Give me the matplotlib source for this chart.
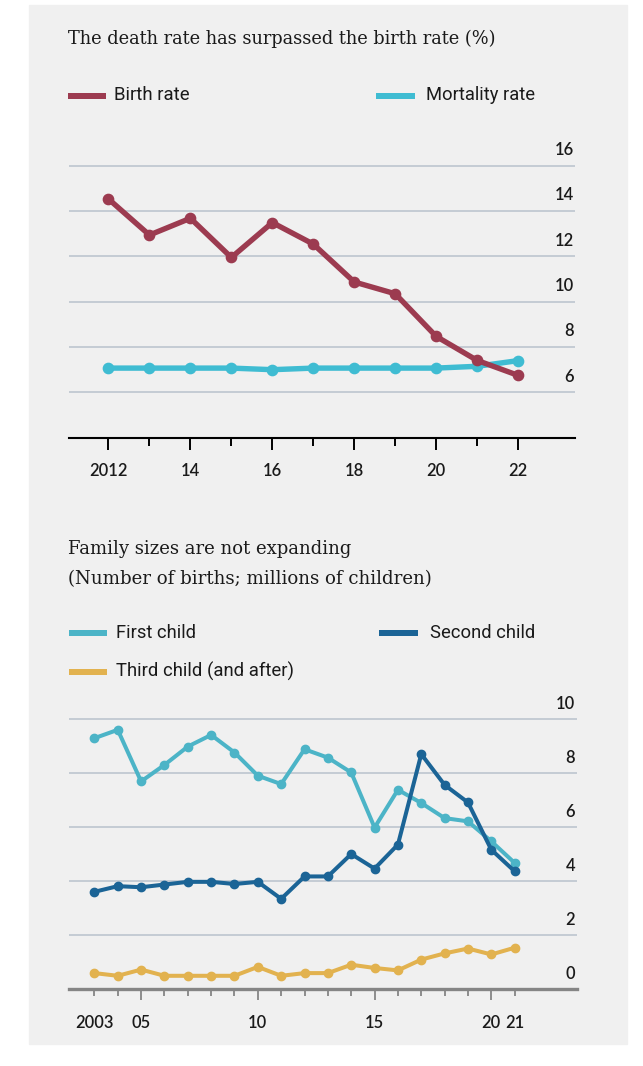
import matplotlib
matplotlib.use("Agg")
import matplotlib.pyplot as plt
import matplotlib.transforms as mtransforms
from matplotlib.lines import Line2D
from matplotlib.patches import Rectangle
from matplotlib import font_manager

# ---------------- data ----------------
rate_years = list(range(2012, 2023))
birth_rate = [14.53, 12.94, 13.68, 11.95, 13.49, 12.54, 10.87, 10.35, 8.47, 7.41, 6.75]
mortality_rate = [7.07, 7.07, 7.07, 7.07, 7.00, 7.07, 7.07, 7.07, 7.07, 7.15, 7.40]
rate_yticks = [6, 8, 10, 12, 14, 16]
rate_xtick_years = [2012, 2014, 2016, 2018, 2020, 2022]
rate_xtick_labels = ["2012", "14", "16", "18", "20", "22"]

birth_years = list(range(2003, 2022))
first_child = [9.30, 9.61, 7.70, 8.31, 8.99, 9.42, 8.77, 7.91, 7.60, 8.89,
               8.58, 8.03, 5.99, 7.39, 6.90, 6.34, 6.22, 5.48, 4.68]
second_child = [3.61, 3.82, 3.78, 3.88, 3.98, 3.98, 3.90, 3.98, 3.35, 4.18,
                4.18, 5.01, 4.47, 5.36, 8.71, 7.57, 6.92, 5.17, 4.37]
third_child = [0.60, 0.50, 0.73, 0.50, 0.50, 0.50, 0.50, 0.83, 0.50, 0.60,
               0.60, 0.91, 0.79, 0.70, 1.10, 1.33, 1.51, 1.29, 1.54]
births_yticks = [0, 2, 4, 6, 8, 10]
births_xtick_years = [2003, 2005, 2010, 2015, 2020, 2021]
births_xtick_labels = ["2003", "05", "10", "15", "20", "21"]

title1 = "The death rate has surpassed the birth rate (%)"
title2a = "Family sizes are not expanding"
title2b = "(Number of births; millions of children)"
leg_birth = "Birth rate"
leg_mort = "Mortality rate"
leg_first = "First child"
leg_second = "Second child"
leg_third = "Third child (and after)"

# ---------------- style ----------------
C_BIRTH = "#9c3b50"
C_MORT = "#3fbcd2"
C_FIRST = "#4cb4c7"
C_SECOND = "#1b6496"
C_THIRD = "#e2b24f"
C_GRID = "#b8c2cc"
C_BG = "#f0f0f0"
C_TEXT = "#1a1a1a"

W, H = 643, 1066
fig = plt.figure(figsize=(W / 100, H / 100), dpi=100)
fig.patch.set_facecolor("white")

names = {f.name for f in font_manager.fontManager.ttflist}
SERIF = "DejaVu Serif"
LEG_FONT = "Liberation Sans Narrow" if "Liberation Sans Narrow" in names else "Roboto"
TICK_FONT = "Lato" if "Lato" in names else "DejaVu Sans"
TICK_WEIGHT = "semibold"


def fx(x):
    return x / W


def fy(y):
    return 1 - y / H


def px_axes(left, right, top, bottom):
    return [left / W, 1 - bottom / H, (right - left) / W, (bottom - top) / H]


fig.patches.append(Rectangle((fx(29.3), fy(1044)), (627 - 29.3) / W, (1044 - 5) / H,
                             transform=fig.transFigure, color=C_BG, zorder=-10))

renderer = fig.canvas.get_renderer()


def fit_text(x, y, s, width_px, family, va="baseline", **kw):
    t = fig.text(fx(x), fy(y), s, family=family, fontsize=10, va=va, ha="left",
                 color=C_TEXT, **kw)
    w = t.get_window_extent(renderer).width
    t.set_fontsize(10 * width_px / w)
    return t


def text_size_for(s, width_px, family, **kw):
    t = fig.text(0, 0, s, family=family, fontsize=10, **kw)
    w = t.get_window_extent(renderer).width
    t.remove()
    return 10 * width_px / w


def legend_line(x0, x1, y, color):
    fig.add_artist(Line2D([fx(x0), fx(x1)], [fy(y), fy(y)], transform=fig.transFigure,
                          color=color, lw=6 * 0.72, solid_capstyle="butt"))


# titles
fit_text(68, 44.5, title1, 431, SERIF)
fit_text(68, 553.5, title2a, 285, SERIF)
fit_text(68, 584.5, title2b, 363, SERIF)

# legends
legend_line(68, 106, 95.7, C_BIRTH)
fit_text(114, 100, leg_birth, 76, LEG_FONT)
legend_line(376, 415, 95.7, C_MORT)
fit_text(426, 100, leg_mort, 109, LEG_FONT)

legend_line(68.5, 107, 633.3, C_FIRST)
fit_text(116, 638.3, leg_first, 80, LEG_FONT)
legend_line(379, 418, 633.3, C_SECOND)
fit_text(430, 638.3, leg_second, 104.6, LEG_FONT)
legend_line(68.5, 107, 671.7, C_THIRD)
fit_text(116, 676.5, leg_third, 177.5, LEG_FONT)

tick_fs = text_size_for("2012", 38, TICK_FONT, weight=TICK_WEIGHT)

# ---------------- top chart ----------------
ax1 = fig.add_axes(px_axes(68.6, 575, 149.8, 437.7))
ax1.set_facecolor("none")
ax1.set_xlim(2011.026, 2023.39)
ax1.set_ylim(4, 16.7)
for sp in ["top", "left", "right"]:
    ax1.spines[sp].set_visible(False)
ax1.spines["bottom"].set_color("black")
ax1.spines["bottom"].set_linewidth(1.5)
for v in rate_yticks:
    ax1.axhline(v, color=C_GRID, lw=1.1, zorder=1)
ax1.plot(rate_years, mortality_rate, color=C_MORT, lw=3.9, marker="o", ms=7.4,
         zorder=3, solid_joinstyle="round")
ax1.plot(rate_years, birth_rate, color=C_BIRTH, lw=3.9, marker="o", ms=7.4,
         zorder=4, solid_joinstyle="round")
ax1.set_yticks([])
ax1.set_xticks(rate_xtick_years, labels=rate_xtick_labels)
ax1.set_xticks([y for y in rate_years if y not in rate_xtick_years], minor=True)
ax1.tick_params(axis="x", which="major", length=12 * 0.72, width=1.4, color="black",
                pad=9.5, labelsize=tick_fs, labelcolor=C_TEXT)
ax1.tick_params(axis="x", which="minor", length=8 * 0.72, width=1.4, color="black")
for lbl in ax1.get_xticklabels():
    lbl.set_family(TICK_FONT)
    lbl.set_weight(TICK_WEIGHT)
off1 = mtransforms.offset_copy(mtransforms.blended_transform_factory(ax1.transAxes, ax1.transData),
                               fig=fig, x=-1 * 0.72, y=15.7 * 0.72, units="points")
for v in rate_yticks:
    ax1.text(1.0, v, str(v), transform=off1, ha="right", va="center", fontsize=tick_fs,
             family=TICK_FONT, weight=TICK_WEIGHT, color=C_TEXT, clip_on=False)

# ---------------- bottom chart ----------------
ax2 = fig.add_axes(px_axes(68.6, 577, 703.1, 989.3))
ax2.set_facecolor("none")
ax2.set_xlim(2001.895, 2023.67)
ax2.set_ylim(0, 10.6)
for sp in ["top", "left", "right"]:
    ax2.spines[sp].set_visible(False)
ax2.spines["bottom"].set_color("#858585")
ax2.spines["bottom"].set_linewidth(2.4)
for v in births_yticks[1:]:
    ax2.axhline(v, color=C_GRID, lw=1.1, zorder=1)
ax2.plot(birth_years, third_child, color=C_THIRD, lw=2.9, marker="o", ms=6,
         zorder=3, solid_joinstyle="round")
ax2.plot(birth_years, first_child, color=C_FIRST, lw=2.9, marker="o", ms=6,
         zorder=3, solid_joinstyle="round")
ax2.plot(birth_years, second_child, color=C_SECOND, lw=2.9, marker="o", ms=6,
         zorder=4, solid_joinstyle="round")
ax2.set_yticks([])
long_ticks = [2005, 2010, 2015, 2020]
ax2.set_xticks(births_xtick_years, labels=births_xtick_labels)
ax2.set_xticks([y for y in birth_years if y not in births_xtick_years], minor=True)
ax2.tick_params(axis="x", which="major", length=11 * 0.72, width=1.3, color="#858585",
                pad=10.5, labelsize=tick_fs, labelcolor=C_TEXT)
ax2.tick_params(axis="x", which="minor", length=7 * 0.72, width=1.3, color="#858585")
for tick, yr in zip(ax2.xaxis.get_major_ticks(), births_xtick_years):
    if yr not in long_ticks:
        tick.tick1line.set_markersize(7 * 0.72)
for lbl in ax2.get_xticklabels():
    lbl.set_family(TICK_FONT)
    lbl.set_weight(TICK_WEIGHT)
off2 = mtransforms.offset_copy(mtransforms.blended_transform_factory(ax2.transAxes, ax2.transData),
                               fig=fig, x=-2 * 0.72, y=15 * 0.72, units="points")
for v in births_yticks:
    ax2.text(1.0, v, str(v), transform=off2, ha="right", va="center", fontsize=tick_fs,
             family=TICK_FONT, weight=TICK_WEIGHT, color=C_TEXT, clip_on=False)

fig.savefig("out.png", dpi=100, facecolor="white")
